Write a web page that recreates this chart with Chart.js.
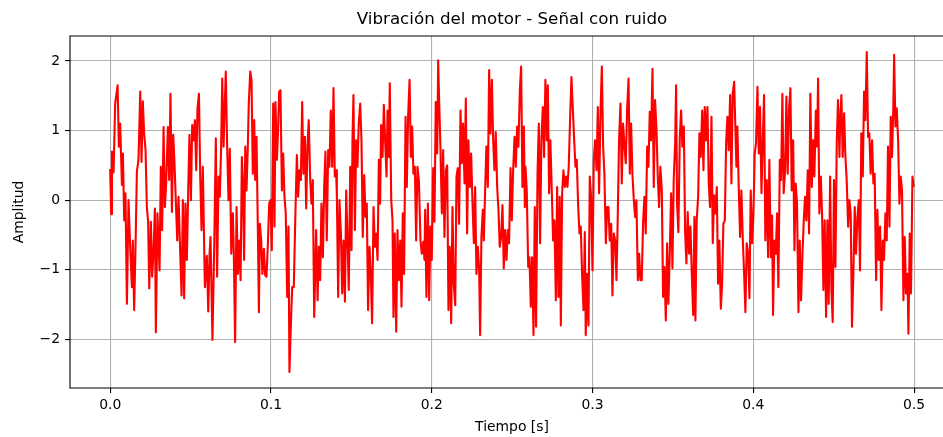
<!DOCTYPE html>
<html lang="es">
<head>
<meta charset="utf-8">
<title>Vibración del motor - Señal con ruido</title>
<script src="https://cdn.jsdelivr.net/npm/chart.js@4.4.1/dist/chart.umd.min.js"></script>
<style>
    html, body { margin: 0; padding: 0; background: #fff; overflow: hidden; }
    #wrap { position: relative; width: 943px; height: 437px; }
</style>
</head>
<body>
<div id="wrap"><canvas id="vibChart" width="943" height="437"></canvas></div>
<script>
// Tiempo de cada muestra en milisegundos
const tiempoMs = [
    0.0, 0.6, 1.1, 2.1, 3.1, 4.6, 5.4, 6.2,
    7.3, 7.9, 8.7, 9.5, 10.4, 11.4, 12.4, 13.5,
    14.1, 14.9, 15.8, 16.6, 17.6, 18.7, 19.5, 20.3,
    21.1, 22.0, 22.8, 23.6, 24.3, 25.3, 26.1, 26.9,
    27.8, 28.4, 29.4, 30.7, 31.5, 32.3, 33.2, 34.0,
    34.8, 35.9, 36.7, 37.5, 38.4, 39.2, 40.0, 40.8,
    41.7, 42.5, 43.5, 44.4, 45.2, 46.0, 46.8, 47.7,
    48.5, 49.3, 50.2, 51.0, 51.8, 52.7, 53.5, 54.3,
    55.2, 56.0, 56.8, 57.6, 58.9, 60.1, 61.0, 61.8,
    62.4, 63.6, 64.7, 65.7, 66.5, 67.4, 68.2, 69.0,
    69.7, 70.5, 71.9, 72.8, 73.6, 74.4, 75.3, 76.3,
    76.9, 77.7, 78.6, 79.4, 80.2, 81.1, 81.9, 82.5,
    83.3, 84.0, 84.8, 85.6, 86.2, 87.1, 87.9, 88.7,
    89.6, 90.2, 91.0, 91.8, 92.5, 93.1, 93.9, 94.7,
    95.6, 96.4, 97.2, 98.1, 98.9, 99.7, 100.5, 101.4,
    102.2, 102.8, 103.7, 104.5, 105.1, 105.9, 106.8, 107.6,
    108.4, 109.2, 110.1, 110.9, 111.5, 112.4, 113.2, 114.2,
    115.1, 116.1, 116.9, 117.7, 118.6, 119.4, 120.2, 121.1,
    121.9, 122.7, 123.5, 124.4, 125.2, 126.0, 126.9,
    128.1, 129.0, 129.8, 130.6, 131.4, 132.3, 133.1, 133.9,
    134.7, 135.6, 136.4, 137.2, 138.1, 138.9, 139.7, 140.5,
    141.0, 141.8, 142.6, 143.5, 144.3, 145.1, 146.0, 146.8,
    147.6, 148.4, 149.3, 150.1, 150.7, 151.3, 152.2, 153.0,
    153.8, 154.6, 155.5, 156.3, 157.1, 158.0, 158.8, 159.6,
    160.4, 161.3, 162.1, 162.9, 163.8, 164.6, 165.4, 166.3,
    167.1, 167.9, 168.5, 169.4, 170.2, 171.0, 171.9, 172.5,
    173.3, 173.9, 174.8, 175.6, 176.2, 177.0, 177.9, 178.7,
    179.5, 180.4, 181.2, 182.0, 182.8, 183.7, 184.5, 185.3,
    186.2, 187.0, 187.8, 188.6, 189.5, 190.3, 191.1, 192.0,
    193.0, 193.8, 194.7, 195.5, 195.9, 196.7, 197.6, 198.4,
    199.2, 200.0, 200.9, 201.7, 202.5, 203.4, 204.0, 204.6,
    205.4, 206.3, 207.1, 207.9, 208.8, 209.6, 210.4, 211.2,
    212.1, 212.9, 213.7, 214.6, 215.4, 216.2, 217.0, 217.9,
    218.7, 219.5, 220.4, 221.2, 222.0, 222.8, 223.7, 224.5,
    225.3, 226.2, 227.0, 227.8, 228.7, 229.5, 230.1, 230.9,
    231.8, 232.4, 233.2, 234.0, 234.9, 235.7, 236.5, 237.4,
    238.2, 239.0, 239.8, 240.7, 241.5, 242.3, 243.2, 244.0,
    244.8, 245.6, 246.5, 247.3, 248.1, 249.0, 249.8, 250.6,
    251.5, 252.3, 253.1, 253.9, 254.8, 255.6, 256.4, 257.3,
    257.9, 258.3, 259.1, 260.0, 260.8, 261.6, 262.4, 263.3,
    264.1, 264.9, 265.8, 266.6, 267.4, 268.2, 269.1, 269.9,
    270.7, 271.6, 272.2, 273.0, 273.8, 274.7, 275.5, 276.3,
    277.2, 278.0, 278.8, 279.6, 280.3, 281.1, 281.9, 282.8,
    283.6, 284.4, 285.2, 286.1, 286.9, 287.7, 288.6, 289.4,
    290.2, 291.1, 291.9, 292.7, 293.5, 294.4, 295.2, 295.8,
    296.6, 297.5, 298.3, 299.1, 300.0, 300.8, 301.6, 302.5,
    303.3, 304.1, 305.0, 305.8, 306.6, 307.4, 308.3, 309.1,
    309.9, 310.7, 311.6, 312.4, 313.2, 314.1, 314.9, 315.7,
    316.5, 317.4, 318.2, 319.0, 319.9, 320.7, 321.5, 322.4, 323.2,
    324.0, 324.8, 325.7, 326.5, 327.3, 328.2, 329.0, 329.8,
    330.6, 331.5, 332.3, 333.1, 334.0, 334.8, 335.6, 336.4,
    337.3, 338.1, 338.9, 339.8, 340.6, 341.4, 342.2, 343.1,
    343.9, 344.7, 345.6, 346.4, 347.2, 348.1, 348.9, 349.7,
    350.5, 351.4, 352.0, 352.6, 353.4, 354.3, 355.1, 355.9,
    356.8, 357.6, 358.4, 359.2, 360.1, 360.9, 361.7, 362.6,
    363.4, 364.0, 364.8, 365.7, 366.5, 367.3, 368.2, 369.0,
    369.8, 370.6, 371.5, 372.3, 373.1, 374.0, 374.8, 375.6,
    376.5, 377.3, 378.1, 378.9, 379.8, 380.6, 381.4, 382.3,
    383.1, 383.9, 384.7, 385.6, 386.4, 387.2, 388.1,
    389.5, 390.1, 391.0, 391.8, 392.6, 393.5, 394.3, 395.1,
    395.9, 396.8, 397.6, 398.4, 399.3, 400.1, 400.9, 401.7,
    402.6, 403.4, 404.2, 405.1, 405.9, 406.7, 407.5, 408.4,
    409.2, 410.0, 410.9, 411.7, 412.3, 413.1, 414.0, 414.8,
    415.6, 416.5, 417.3, 418.1, 418.9, 419.8, 420.6, 421.4,
    422.3, 423.1, 423.9, 424.8, 425.6, 426.4, 427.2, 428.1,
    428.9, 429.7, 430.6, 431.4, 432.2, 433.0, 433.9, 434.7,
    435.5, 436.4, 437.2, 438.0, 438.9, 439.7, 440.3, 441.1,
    442.0, 442.8, 443.6, 444.4, 445.3, 446.1, 446.9, 447.8,
    448.6, 449.4, 450.2, 451.1, 451.9, 452.7, 453.6,
    454.0, 454.8, 455.6, 456.5, 457.3, 458.1, 459.0, 459.8,
    460.6, 461.4, 462.3, 463.1, 463.9, 464.8, 465.6, 466.4,
    467.2, 468.1, 468.9, 469.7, 470.6, 471.4, 472.2, 473.0,
    473.9, 474.7, 475.5, 476.4, 477.2, 478.0, 478.9, 479.7,
    480.5, 481.3, 482.2, 483.0, 483.8, 484.7, 485.5, 486.3,
    487.1, 487.6, 488.4, 489.2, 490.1, 490.9, 491.7, 492.5,
    493.4, 494.2, 495.0, 495.9, 496.5, 497.3, 498.1, 499.0, 499.8
];

// Amplitud de cada muestra
const amplitud = [
    0.45, -0.20, 0.70, 0.40, 1.39, 1.65, 0.77, 1.10,
    0.22, 0.67, -0.29, 0.10, -1.49, 0.00, -0.65, -1.25,
    -0.58, -1.58, -0.62, 0.41, 0.58, 1.56, 0.55, 1.42,
    0.96, 0.72, -0.10, -0.31, -1.27, -0.31, -1.10, -0.77,
    -0.12, -1.90, -0.19, -1.01, 0.48, -0.43, 1.05, -0.10,
    0.24, 1.05, 0.29, 1.53, -0.17, 0.94, 0.53, 0.00,
    -0.58, 0.05, -0.72, -1.37, 0.00, -1.41, -0.05, -0.86,
    0.10, 0.94, 0.00, 1.08, 0.86, 1.15, 0.43, 1.32,
    1.53, 0.34, -0.43, 0.48, -1.25, -0.80, -1.60, -0.77,
    -0.53, -2.01, -0.67, 0.89, -1.10, 0.34, 0.05, 0.77,
    1.75, 0.77, 1.85, 0.72, 0.00, 0.74, -0.77, -0.19,
    -0.77, -2.04, -0.10, -1.06, -0.58, -1.15, 0.62, 0.29,
    -0.86, 0.77, 0.14, 0.77, 1.39, 1.85, 1.73, 0.38,
    1.15, 0.29, 0.91, -0.34, -1.61, -0.34, -0.58, -1.06,
    -0.70, -1.08, -1.10, -0.62, -0.05, 0.00, -0.72, 1.39,
    -0.38, 1.41, 0.58, 1.06, 1.56, 1.58, 0.14, 0.67,
    0.05, -0.19, -1.39, -0.38, -2.47, -1.77, -1.25, -1.25,
    -0.29, 0.65, 0.05, 0.43, 0.29, 1.41, 0.38, 0.91,
    -0.12, 0.77, 1.15, 0.29, -0.05, 0.29, -1.68,
    -0.43, -1.44, -0.67, -1.15, -0.05, -0.82, 0.19, 0.70,
    -0.58, 0.72, 0.48, 1.29, 0.48, 1.61, 0.34, 0.43,
    0.05, -1.39, 0.00, -0.48, -1.34, -0.58, -1.46, 0.14,
    -0.58, -1.29, 0.48, -0.72, 0.86, 1.51, -0.43, 0.86,
    0.48, 1.10, 1.39, 0.86, -0.53, 0.36, -0.24, -0.05,
    -1.58, -0.67, -1.06, -1.77, -0.10, -0.67, -0.48, -0.86,
    0.58, -0.05, 1.08, 0.62, 1.37, 0.86, 0.34, 1.29,
    0.62, 1.68, 0.00, -0.29, -1.68, -0.48, -1.89, -0.43,
    -1.15, -0.58, -1.53, -0.19, -1.06, 1.20, 0.19, 1.20,
    1.73, 0.62, 1.06, 0.38, 0.48, -0.58, 0.48, 0.29,
    -0.58, -0.77, -0.60, -0.86, -0.14, -1.39, -0.05, -1.44,
    -0.38, -0.86, 0.46, -0.31, 1.41, 0.67, 2.01, 1.44,
    0.77, -0.19, 0.72, -0.53, 0.43, 0.50, -1.58, -0.67,
    -1.77, -0.10, -1.20, -1.51, 0.34, 0.46, -0.34, 1.29,
    0.53, 1.10, 0.24, 1.46, -0.48, 0.86, 0.19, 0.67,
    0.00, -0.62, 0.19, -1.06, -0.67, -1.01, -1.94, -0.53,
    -0.14, -0.58, 0.14, 0.77, 0.19, 1.87, 0.96, 1.73,
    0.86, 0.43, 0.98, 0.19, -0.14, -0.67, -0.53, -0.07,
    -0.98, -0.43, -0.86, -0.43, -0.62, 0.46, -0.29, 0.41,
    0.91, 0.48, 1.06, 0.77, 1.58, 1.92, 0.19, 1.06,
    -0.10, 0.48, 0.14, -0.96, -0.82, -1.53, -0.82, -1.94,
    -0.10, -1.82, 0.38, 1.10, -0.62, 0.86, 1.34, 0.62,
    1.73, 0.86, 1.65, 0.10, 0.86, 0.10, -0.58, -0.29,
    -1.44, 0.19, -1.39, 0.05, -1.80, 0.10, 0.43, 0.19,
    0.34, 0.19, 0.48, 1.20, 1.77, 1.34, 0.86, 0.48,
    0.58, -0.10, -0.48, -0.38, -1.06, -1.58, -0.46, -1.94,
    -1.06, -1.80, 0.34, 0.05, -1.01, 0.58, 0.86, 0.43,
    1.34, 0.10, 1.29, 1.92, 0.77, 0.38, -0.62, -0.10,
    -0.10, -0.58, -0.34, -1.37, -0.48, -0.58, -1.15, -0.24,
    0.86, 1.39, 0.24, 1.10, 0.77, 0.53, 1.29, 1.75, 0.38,
    1.10, 0.38, 0.00, -0.24, 0.00, -1.15, -0.77, -1.15,
    -1.15, -0.29, 0.05, -0.48, 0.77, 0.48, 1.27, 0.86,
    1.89, 0.19, 1.44, 1.01, 0.34, -0.10, 0.48, 0.14,
    -1.39, -0.96, -1.73, -0.62, -1.49, -0.72, 0.10, -0.98,
    0.29, 0.82, 1.65, -0.05, -0.46, 0.91, 1.29, 0.77,
    1.06, -0.46, -0.91, -0.17, -0.77, -0.38, -1.01, -1.65,
    -0.24, -1.73, -0.29, 0.05, 0.96, 0.62, 1.29, 0.43,
    1.34, 0.86, 1.34, 0.24, -0.10, 1.20, -0.62, 0.07,
    -0.19, 0.19, -1.20, -0.58, -1.56, -1.20, -0.34, -0.29,
    0.82, 1.20, 0.72, 1.51, 0.24, 1.53, 1.70,
    0.48, 1.06, 0.14, -0.53, 0.14, -0.58, -1.06, -1.61,
    -0.62, -0.77, -1.41, 0.14, -0.62, -0.19, 0.67, 0.82,
    1.63, 0.67, 1.34, 0.10, 0.86, 1.51, -0.58, 0.29,
    -0.82, 0.58, -0.82, -0.22, -1.65, -0.58, -0.77, -0.19,
    -1.25, 0.58, 0.29, 1.53, 0.10, 0.43, 1.49, 0.38,
    1.34, 1.61, 0.14, 0.86, -0.72, 0.24, -0.05, -1.61,
    -0.58, -1.44, -0.77, -0.29, 0.05, -0.29, 0.43, -0.48,
    1.53, 0.19, 0.86, 0.34, 1.29, 0.77, 1.75, -0.19,
    0.34, -0.22, -1.29, -0.29, -1.68, -0.29, -1.49, 0.34,
    -1.29, -1.75, 0.29, -0.96, 0.82, 1.44, 0.62,
    1.10, 1.51, 0.62, 1.25, 0.62, 0.29, -0.38, 0.00,
    -0.19, -1.82, -1.01, -0.10, -0.77, -0.24, 0.00, -1.01,
    0.96, 0.34, 1.56, 1.15, 2.13, 0.91, 0.96, 0.38,
    0.86, 0.24, 0.38, -1.15, -0.14, -0.86, -0.38, -1.58,
    -0.58, -0.86, -0.19, -0.58, 0.77, -0.38, 1.20, 0.62,
    1.34, 2.09, 1.06, 1.32, 0.86, -0.05, 0.34, 0.14,
    -1.44, -0.53, -1.34, -1.06, -1.92, -0.48, -1.34, 0.34, 0.19
];

const xTicks = [0.0, 0.1, 0.2, 0.3, 0.4, 0.5];
const yTicks = [-2, -1, 0, 1, 2];
// el borde derecho de la figura recorta los ejes, se ve hasta ~0.518 s
const xRange = [-0.025, 0.518];
const yRange = [-2.70, 2.36];

const titulo = "Vibración del motor - Señal con ruido";
const etiquetaX = "Tiempo [s]";
const etiquetaY = "Amplitud";

const fuente = "'DejaVu Sans', 'Liberation Sans', sans-serif";

const puntos = tiempoMs.map((ms, i) => ({ x: ms / 1000, y: amplitud[i] }));

// Titulo, etiquetas de ejes y marco (estilo matplotlib)
const textosPlugin = {
    id: "textos",
    afterDraw(chart) {
        const { ctx, chartArea: a } = chart;
        ctx.save();
        ctx.strokeStyle = "#000";
        ctx.lineWidth = 1.1;
        ctx.beginPath();
        ctx.moveTo(chart.width, a.top);
        ctx.lineTo(a.left, a.top);
        ctx.lineTo(a.left, a.bottom);
        ctx.lineTo(chart.width, a.bottom);
        ctx.stroke();

        ctx.fillStyle = "#000";
        ctx.textAlign = "center";
        ctx.textBaseline = "middle";
        const cx = 512;
        ctx.font = `16.7px ${fuente}`;
        ctx.fillText(titulo, cx, 20);

        ctx.font = `13.9px ${fuente}`;
        ctx.fillText(etiquetaX, cx, 427);

        ctx.translate(19, (a.top + a.bottom) / 2);
        ctx.rotate(-Math.PI / 2);
        ctx.fillText(etiquetaY, 0, 0);
        ctx.restore();
    }
};

const ctx = document.getElementById("vibChart").getContext("2d");
new Chart(ctx, {
    type: "line",
    data: {
        datasets: [{
            label: "Señal",
            data: puntos,
            borderColor: "#ff0000",
            borderWidth: 2.1,
            borderJoinStyle: "round",
            pointRadius: 0,
            tension: 0,
            fill: false
        }]
    },
    options: {
        responsive: false,
        animation: false,
        devicePixelRatio: 1,
        layout: { padding: { left: 0, right: 0, top: 36, bottom: 0 } },
        plugins: {
            legend: { display: false },
            tooltip: { enabled: false }
        },
        scales: {
            x: {
                type: "linear",
                min: xRange[0],
                max: xRange[1],
                afterBuildTicks: scale => { scale.ticks = xTicks.map(v => ({ value: v })); },
                afterFit: scale => { scale.height = 49; },
                border: { display: false },
                grid: {
                    color: "#b0b0b0",
                    lineWidth: 1.1,
                    drawTicks: true,
                    tickLength: 5,
                    tickColor: "#000",
                    tickWidth: 1.1
                },
                ticks: {
                    color: "#000",
                    padding: 4,
                    maxRotation: 0,
                    font: { family: fuente, size: 13.9 },
                    callback: v => v.toFixed(1)
                }
            },
            y: {
                min: yRange[0],
                max: yRange[1],
                afterBuildTicks: scale => { scale.ticks = yTicks.map(v => ({ value: v })); },
                afterFit: scale => { scale.width = 70; },
                border: { display: false },
                grid: {
                    color: "#b0b0b0",
                    lineWidth: 1.1,
                    drawTicks: true,
                    tickLength: 5,
                    tickColor: "#000",
                    tickWidth: 1.1
                },
                ticks: {
                    color: "#000",
                    padding: 5,
                    font: { family: fuente, size: 13.9 },
                    callback: v => (v < 0 ? "\u2212" + Math.abs(v) : String(v))
                }
            }
        }
    },
    plugins: [textosPlugin]
});
</script>
</body>
</html>
